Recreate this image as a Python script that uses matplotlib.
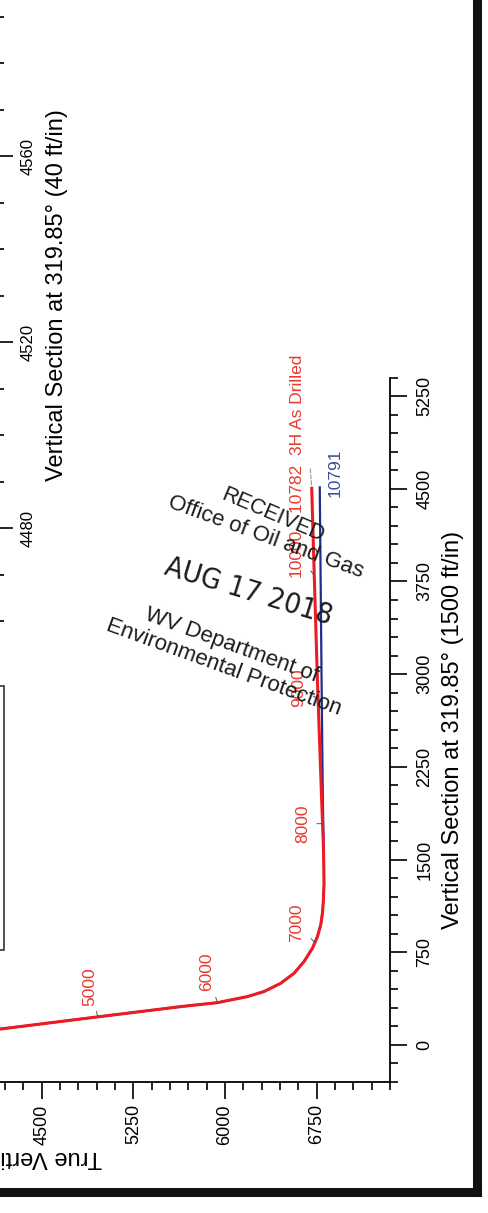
import numpy as np
import matplotlib
matplotlib.use('Agg')
import matplotlib.pyplot as plt
from matplotlib.ticker import MultipleLocator
from matplotlib.lines import Line2D
from matplotlib.patches import Rectangle

plt.rcParams['font.family'] = ['Liberation Sans', 'DejaVu Sans']

# well path as drilled (red) and plan (blue): TVD vs vertical section, ft
act_tvd = [3900, 4164, 4958, 5637, 5938, 6183, 6319, 6456, 6565, 6646, 6715, 6756, 6783,
           6797, 6805, 6810, 6806, 6790, 6756, 6730, 6709]
act_vs = [100, 129, 227, 310, 342, 391, 432, 499, 580, 674, 782, 876, 971,
          1066, 1173, 1308, 1578, 2000, 2950, 3800, 4515]
plan_tvd = [3900, 4164, 4958, 5637, 5938, 6183, 6319, 6456, 6565, 6646, 6715, 6756, 6783,
            6797, 6805, 6810, 6808, 6800, 6790, 6782, 6775]
plan_vs = [100, 129, 227, 310, 342, 391, 432, 499, 580, 674, 782, 876, 971,
           1066, 1173, 1308, 1578, 2000, 2950, 3800, 4520]

# measured depth markers along the drilled path
md_marks = [5000, 6000, 7000, 8000, 9000, 10000]
mark_tvd = [4958, 5938, 6735, 6798, 6761, 6730]
mark_vs = [227, 342, 828, 1790, 2800, 3800]
act_end_md = 10782
plan_end_md = 10791
well_name = '3H As Drilled'

tvd_ticks = [0, 750, 1500, 2250, 3000, 3750, 4500, 5250, 6000, 6750]
vs_ticks = [0, 750, 1500, 2250, 3000, 3750, 4500, 5250]
zoom_ticks = [4480, 4520, 4560, 4600]

# label offsets (points) from each marker
mark_off = [(-5.4, 21.6), (-7.6, 22.3), (-13, 14), (-14, 0), (-14, 8), (-13, 16)]

W, H = 489, 1213
RED = '#ec1c24'
RED_TXT = '#e8392f'
BLUE = '#1f2d8f'
BLUE_TXT = '#3b4c9c'


def px_box(x0, y0, x1, y1):
    return [x0 / W, 1 - y1 / H, (x1 - x0) / W, (y1 - y0) / H]


def fig_text(x, y, s, **kw):
    fig.text(x / W, 1 - y / H, s, ha='center', va='center', **kw)


fig = plt.figure(figsize=(W / 100, H / 100), dpi=100)

# main section view
ax = fig.add_axes(px_box(-508, 377.5, 390, 1082))
ax.plot(plan_tvd, plan_vs, color=BLUE, lw=1.6, solid_capstyle='butt')
ax.plot(act_tvd, act_vs, color=RED, lw=2.2, solid_capstyle='butt', solid_joinstyle='round')

ax.spines['left'].set_visible(False)
ax.spines['top'].set_visible(False)
ax.spines['right'].set_linewidth(1.3)
ax.spines['bottom'].set_linewidth(1.3)

ax.set_xticks(tvd_ticks, [str(t) for t in tvd_ticks], rotation=90, fontsize=13)
ax.set_yticks(vs_ticks, [str(t) for t in vs_ticks], rotation=90, va='center', fontsize=13)
ax.set_xlim(0, 7350)
ax.set_ylim(-300, 5400)
ax.xaxis.set_minor_locator(MultipleLocator(150))
ax.yaxis.set_minor_locator(MultipleLocator(150))
ax.yaxis.tick_right()
ax.tick_params(axis='both', which='major', length=12.5, width=1.2, direction='out')
ax.tick_params(axis='both', which='minor', length=6, width=1.2, direction='out')
ax.tick_params(axis='x', which='major', pad=3.6)
ax.tick_params(axis='y', which='major', pad=6.5)
ax.set_xlabel('True Vertical Depth (1500 ft/in)', rotation=180, fontsize=17, labelpad=1)
ax.yaxis.set_label_position('right')
ax.set_ylabel('Vertical Section at 319.85° (1500 ft/in)', rotation=90, fontsize=17, labelpad=6)

# MD labels and their little ticks
for md, t, v, (dx, dy) in zip(md_marks, mark_tvd, mark_vs, mark_off):
    n = np.hypot(dx, dy)
    ax.annotate('', xy=(t, v), xytext=(dx / n * 4, dy / n * 4), textcoords='offset points',
                arrowprops=dict(arrowstyle='-', color='#555555', lw=0.7, shrinkA=0, shrinkB=0))
    ax.annotate(str(md), xy=(t, v), xytext=(dx, dy), textcoords='offset points',
                rotation=90, ha='center', va='center', fontsize=12.5, color=RED_TXT)

ax.annotate('', xy=(act_tvd[-1], act_vs[-1]), xytext=(-1, 13), textcoords='offset points',
            arrowprops=dict(arrowstyle='-', color='#9a9a9a', lw=0.8, ls='--', shrinkA=0, shrinkB=0))
ax.annotate(f'{act_end_md}  {well_name}', xy=(act_tvd[-1], act_vs[-1]), xytext=(-10, -18.7),
            textcoords='offset points', rotation=90, ha='center', va='bottom',
            fontsize=12.5, color=RED_TXT)
ax.annotate(str(plan_end_md), xy=(plan_tvd[-1], plan_vs[-1]), xytext=(10.8, 9.4),
            textcoords='offset points', rotation=90, ha='center', va='center',
            fontsize=12.5, color=BLUE_TXT)

# zoomed lateral view
axz = fig.add_axes(px_box(-320, -30, -4, 621))
axz.plot(plan_tvd, plan_vs, color=BLUE, lw=1.6)
axz.plot(act_tvd, act_vs, color=RED, lw=2.2)
for s in ['left', 'top', 'bottom']:
    axz.spines[s].set_visible(False)
axz.spines['right'].set_linewidth(1.3)
axz.set_xticks([])
axz.set_yticks(zoom_ticks, [str(t) for t in zoom_ticks], rotation=90, va='center', fontsize=12)
axz.set_xlim(6690, 6830)
axz.set_ylim(4460, 4600)
axz.yaxis.set_minor_locator(MultipleLocator(10))
axz.yaxis.tick_right()
axz.tick_params(axis='y', which='major', length=12.5, width=1.2, pad=5)
axz.tick_params(axis='y', which='minor', length=6, width=1.2)
axz.yaxis.set_label_position('right')
axz.set_ylabel('Vertical Section at 319.85° (40 ft/in)', rotation=90, fontsize=17, labelpad=8)

# legend box edge
fig.add_artist(Rectangle((-200 / W, 1 - 950 / H), 204.3 / W, 264 / H, fill=False,
                         lw=1.1, ec='#222222', transform=fig.transFigure))

# received stamp
stamp = '#1c1c1c'
fig_text(273, 515, 'RECEIVED', rotation=-23, fontsize=15.5, color=stamp)
fig_text(266, 537, 'Office of Oil and Gas', rotation=-20, fontsize=16, color=stamp)
fig_text(248, 592, 'AUG 17 2018', rotation=-17, fontsize=21, color=stamp,
         family=['Liberation Sans Narrow', 'DejaVu Sans'], stretch='condensed')
fig_text(232, 645, 'WV Department of', rotation=-20, fontsize=16, color=stamp)
fig_text(224, 667, 'Environmental Protection', rotation=-20, fontsize=16, color=stamp)

# page frame
fig.add_artist(Line2D([477.5 / W, 477.5 / W], [1.01, 1 - 1192 / H], lw=6.5, color='#111111',
                      transform=fig.transFigure, solid_capstyle='projecting'))
fig.add_artist(Line2D([-0.01, 477.5 / W], [1 - 1192 / H, 1 - 1192 / H], lw=6.5, color='#111111',
                      transform=fig.transFigure, solid_capstyle='projecting'))

fig.savefig('out.png', dpi=100)
